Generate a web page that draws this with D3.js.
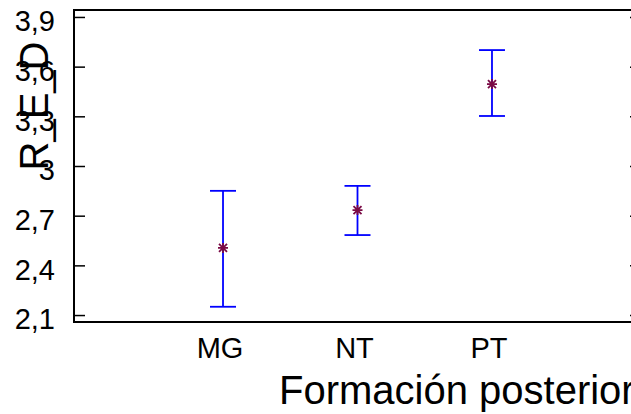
<!DOCTYPE html>
<html>
<head>
<meta charset="utf-8">
<script src="https://cdn.jsdelivr.net/npm/d3@7"></script>
<style>
	body { margin: 0; background: #fff; }
	svg { display: block; font-family: "Liberation Sans", Arial, sans-serif; }
	.frame { fill: none; stroke: #000; stroke-width: 2; }
	.axis path { display: none; }
	.axis line { stroke: #000; stroke-width: 1.5; }
</style>
</head>
<body>
<svg id="chart" width="631" height="414"></svg>
<script>
const categories = ["MG", "NT", "PT"];
const means = [2.505, 2.734, 3.495];
const lower = [2.15, 2.583, 3.302];
const upper = [2.85, 2.88, 3.70];
const yTicks = [2.1, 2.4, 2.7, 3.0, 3.3, 3.6, 3.9];

const svg = d3.select("#chart");
const plotLeft = 74, plotRight = 641, plotTop = 10, plotBottom = 322;

const x = d3.scalePoint()
	.domain(categories)
	.range([plotLeft, plotRight])
	.padding(1.108);

const y = d3.scaleLinear()
	.domain([2.058, 3.942])
	.range([plotBottom, plotTop]);

const fmt = d => d3.format("~g")(d).replace(".", ",");

// frame
svg.append("rect")
	.attr("class", "frame")
	.attr("x", plotLeft)
	.attr("y", plotTop)
	.attr("width", plotRight - plotLeft)
	.attr("height", plotBottom - plotTop);

// left axis, ticks pointing inward
const yAxis = svg.append("g")
	.attr("class", "axis")
	.attr("transform", `translate(${plotLeft},0)`)
	.call(d3.axisLeft(y).tickValues(yTicks).tickSize(-11).tickPadding(19).tickFormat(fmt));
yAxis.selectAll("text")
	.attr("fill", "#000")
	.attr("font-size", 29)
	.attr("dy", "0.48em");

// right axis, ticks only
svg.append("g")
	.attr("class", "axis")
	.attr("transform", `translate(${plotRight},0)`)
	.call(d3.axisRight(y).tickValues(yTicks).tickSize(-11).tickFormat(""));

// category labels
svg.append("g")
	.selectAll("text")
	.data(categories)
	.join("text")
	.attr("x", d => x(d) - 3)
	.attr("y", 358)
	.attr("text-anchor", "middle")
	.attr("font-size", 29)
	.text(d => d);

// axis titles
svg.append("text")
	.attr("x", 279)
	.attr("y", 404)
	.attr("font-size", 40)
	.text("Formación posterior");

svg.append("text")
	.attr("transform", "translate(48,106) rotate(-90)")
	.attr("text-anchor", "middle")
	.attr("font-size", 40)
	.text("R_E_D");

// error bars
const bars = svg.append("g")
	.attr("stroke", "#0000ff")
	.attr("stroke-width", 1.8);
categories.forEach((c, i) => {
	const cx = x(c);
	bars.append("line").attr("x1", cx).attr("x2", cx).attr("y1", y(lower[i])).attr("y2", y(upper[i]));
	bars.append("line").attr("x1", cx - 13).attr("x2", cx + 13).attr("y1", y(lower[i])).attr("y2", y(lower[i]));
	bars.append("line").attr("x1", cx - 13).attr("x2", cx + 13).attr("y1", y(upper[i])).attr("y2", y(upper[i]));
});

// mean markers (asterisks)
const marks = svg.append("g")
	.attr("stroke", "#7a0a45")
	.attr("stroke-width", 1.8);
categories.forEach((c, i) => {
	const cx = x(c), cy = y(means[i]);
	marks.append("path")
		.attr("d", `M${cx - 4},${cy - 4}L${cx + 4},${cy + 4}M${cx - 4},${cy + 4}L${cx + 4},${cy - 4}M${cx - 5},${cy}L${cx + 5},${cy}M${cx},${cy - 5}L${cx},${cy + 5}`);
});
</script>
</body>
</html>
